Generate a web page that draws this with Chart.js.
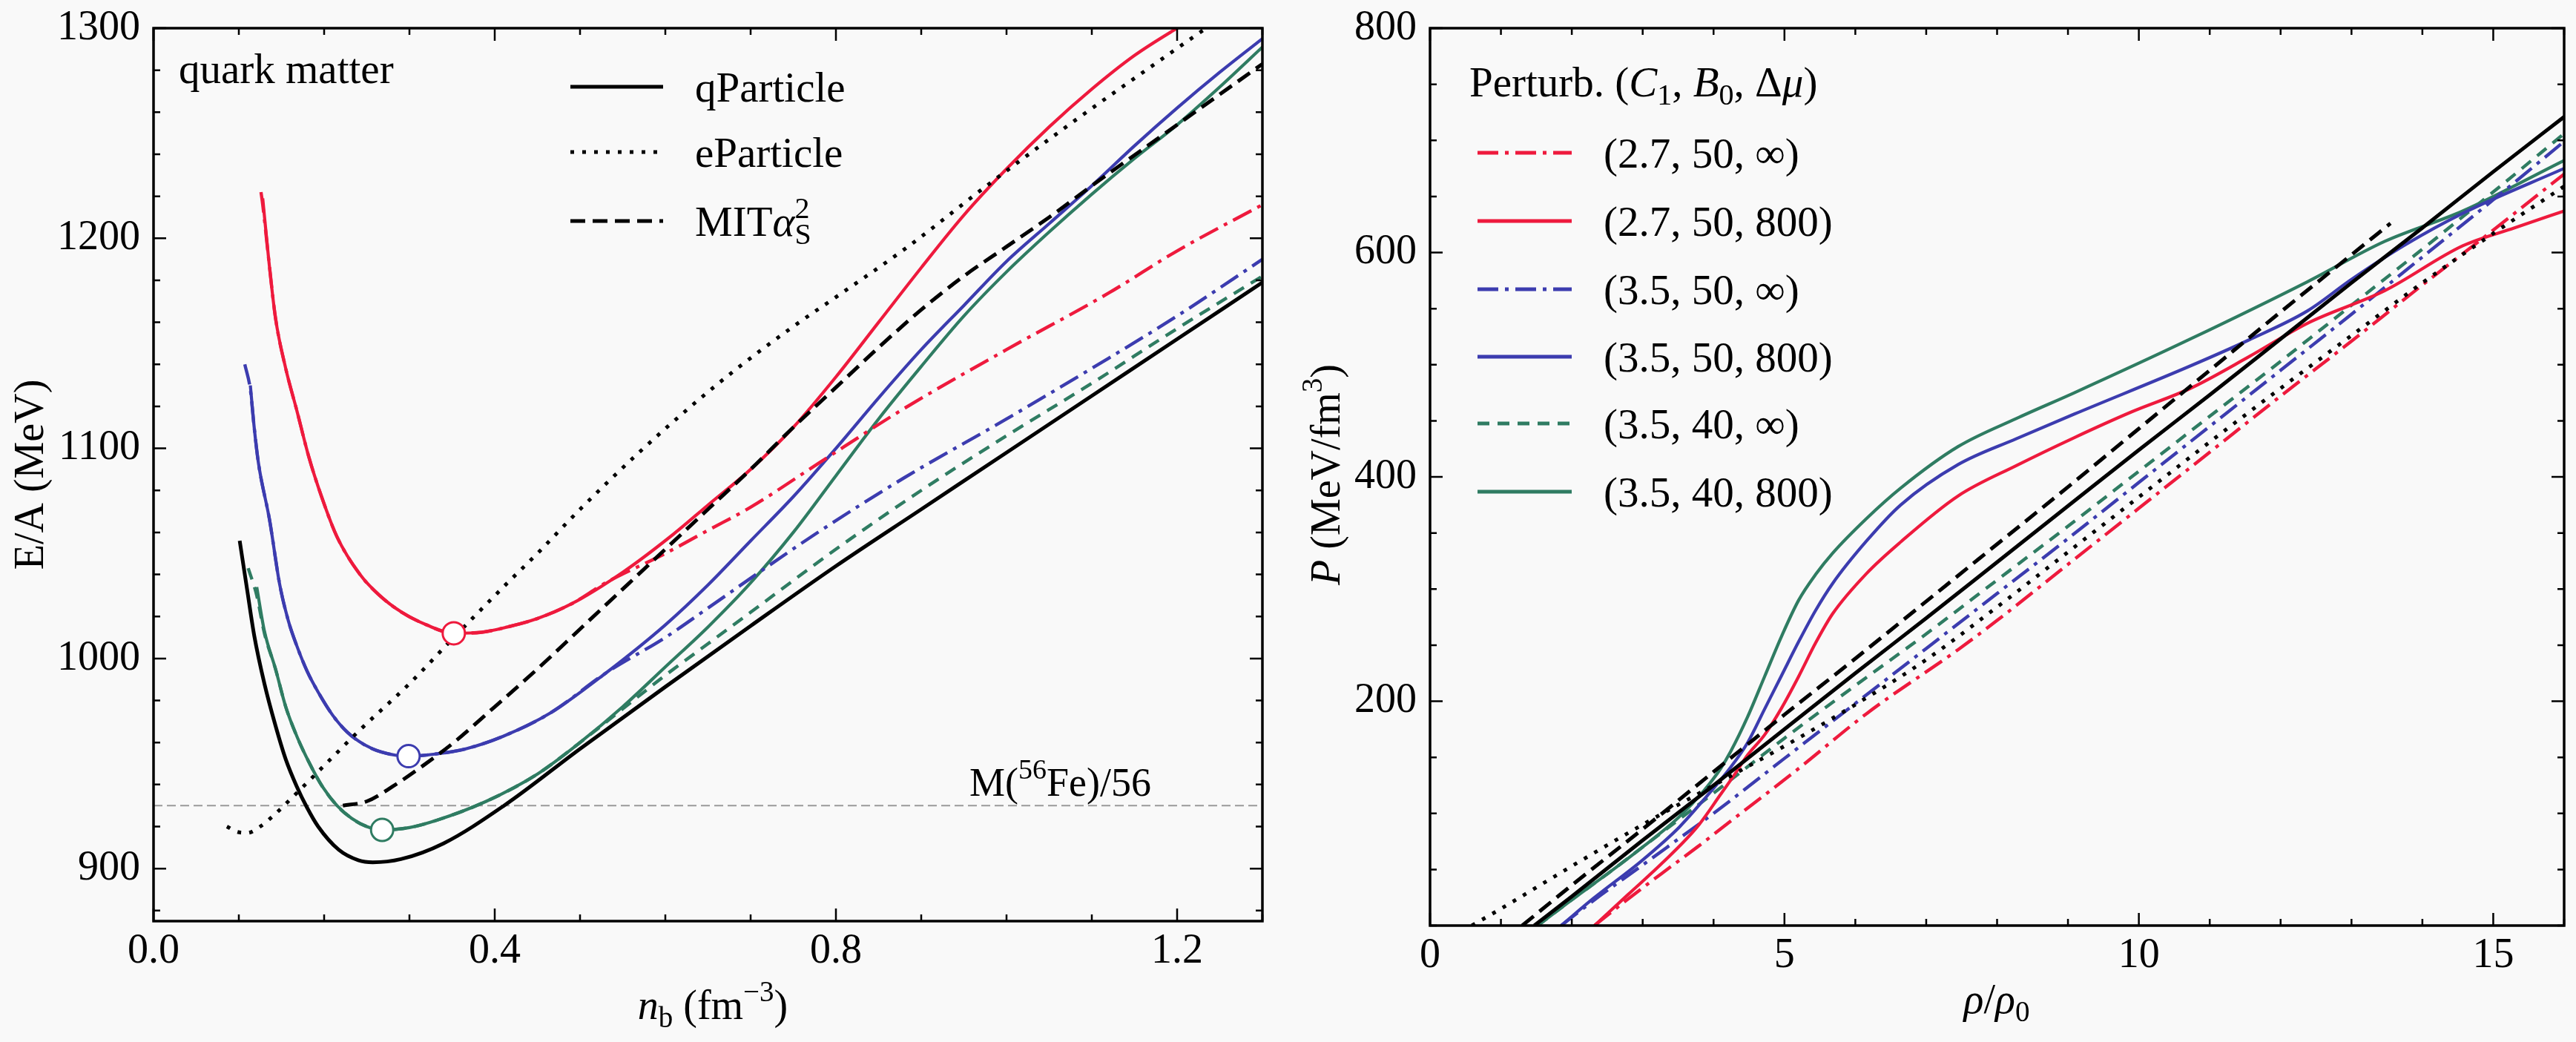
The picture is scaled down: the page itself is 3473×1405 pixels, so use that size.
<!DOCTYPE html>
<html>
<head>
<meta charset="utf-8">
<title>Quark matter EOS</title>
<script src="https://cdn.jsdelivr.net/npm/chart.js@4.4.1/dist/chart.umd.min.js"></script>
<style>
  html, body { margin: 0; padding: 0; background: #f9f9f9; }
  body { width: 3473px; height: 1405px; position: relative; overflow: hidden; }
  canvas { position: absolute; top: 0; }
  #left { left: 0; width: 1720px; height: 1405px; }
  #right { left: 1720px; width: 1753px; height: 1405px; }
</style>
</head>
<body>
<canvas id="left" width="1720" height="1405"></canvas>
<canvas id="right" width="1753" height="1405"></canvas>
<script>
const SERIF = "'Liberation Serif', 'DejaVu Serif', serif";
const RED = '#ee1a3d', BLUE = '#3c3caf', GREEN = '#2f7c62', BLACK = '#000000';

// tick labels
const leftXTicks = [0, 0.4, 0.8, 1.2];
const leftYTicks = [900, 1000, 1100, 1200, 1300];
const rightXTicks = [0, 5, 10, 15];
const rightYTicks = [200, 400, 600, 800];

// left panel: E/A (MeV) against n_b (fm^-3)
const fe56Level = [[0, 930], [1.3, 930]];
const qParticleEA = [[0.101,1056],[0.110,1032],[0.118,1011],[0.130,988],[0.143,968],[0.155,952],[0.168,939],[0.180,929],[0.193,920],[0.217,909],[0.240,904],[0.257,903],[0.290,904.5],[0.340,912],[0.411,930],[0.500,957],[0.600,986.5],[0.700,1015.5],[0.800,1044],[0.900,1071],[1.000,1098],[1.100,1125],[1.200,1152],[1.300,1179]];
const eParticleEA = [[0.086,920],[0.098,917.5],[0.110,917],[0.125,920],[0.140,925],[0.168,936],[0.200,949],[0.242,966],[0.300,988],[0.352,1010],[0.415,1036],[0.450,1050],[0.500,1071],[0.569,1098],[0.630,1120],[0.684,1138],[0.750,1158],[0.800,1172],[0.881,1195],[0.980,1226],[1.080,1256],[1.160,1279],[1.234,1300],[1.270,1310]];
const mitEA = [[0.222,930],[0.250,932],[0.280,939],[0.316,949],[0.352,960],[0.400,977],[0.450,995],[0.500,1014],[0.550,1033],[0.600,1052],[0.650,1071],[0.700,1090],[0.750,1110],[0.800,1129],[0.850,1148],[0.900,1166],[0.950,1182],[1.000,1196],[1.050,1210],[1.100,1225],[1.200,1254],[1.300,1283]];
const red800EA = [[0.128,1219],[0.135,1190],[0.143,1162],[0.155,1138],[0.168,1118],[0.182,1096],[0.197,1077],[0.215,1058],[0.242,1040],[0.265,1030],[0.291,1022],[0.320,1016],[0.352,1012],[0.385,1012.5],[0.415,1015],[0.450,1019],[0.490,1026],[0.550,1041],[0.609,1059],[0.650,1073],[0.700,1090],[0.750,1110],[0.800,1134],[0.850,1160],[0.900,1186],[0.950,1211],[1.000,1233],[1.050,1253],[1.100,1271],[1.150,1287],[1.200,1300],[1.250,1312]];
const redInfEA = [[0.126,1222],[0.128,1216],[0.135,1190],[0.143,1162],[0.155,1138],[0.168,1118],[0.182,1096],[0.197,1077],[0.215,1058],[0.242,1040],[0.265,1030],[0.291,1022],[0.320,1016],[0.352,1012],[0.385,1012.5],[0.415,1015],[0.450,1019],[0.490,1026],[0.530,1036],[0.600,1050],[0.650,1061],[0.700,1072],[0.780,1093],[0.880,1119],[1.000,1147],[1.120,1174],[1.200,1194],[1.300,1216]];
const blue800EA = [[0.1135,1130],[0.118,1110],[0.123,1093],[0.136,1066],[0.148,1035],[0.158,1018],[0.168,1006],[0.180,994],[0.193,984],[0.210,973],[0.227,965],[0.247,959],[0.267,955.5],[0.299,953.5],[0.330,954.5],[0.366,957],[0.410,963],[0.465,974],[0.530,993],[0.600,1016],[0.650,1035],[0.700,1056],[0.750,1077],[0.800,1100],[0.850,1124],[0.900,1147],[0.950,1168],[1.000,1189],[1.050,1207],[1.100,1225],[1.150,1244],[1.200,1262],[1.250,1279],[1.300,1295]];
const blueInfEA = [[0.107,1140],[0.1135,1128],[0.118,1110],[0.123,1093],[0.136,1066],[0.148,1035],[0.158,1018],[0.168,1006],[0.180,994],[0.193,984],[0.210,973],[0.227,965],[0.247,959],[0.267,955.5],[0.299,953.5],[0.330,954.5],[0.366,957],[0.410,963],[0.465,974],[0.530,993],[0.600,1010],[0.650,1024],[0.710,1041],[0.775,1059],[0.880,1086],[1.000,1114],[1.120,1143],[1.200,1163],[1.300,1190]];
const green800EA = [[0.121,1034],[0.130,1013],[0.143,995],[0.155,977],[0.168,963],[0.183,950],[0.198,939],[0.215,930],[0.232,924],[0.250,920],[0.268,918.4],[0.300,919.5],[0.332,923],[0.390,932],[0.450,945],[0.500,960],[0.550,977],[0.600,996],[0.650,1015],[0.700,1036],[0.750,1060],[0.800,1087],[0.850,1114],[0.900,1139],[0.950,1163],[1.000,1184],[1.050,1203],[1.100,1221],[1.150,1238],[1.200,1254],[1.250,1272],[1.300,1291]];
const greenInfEA = [[0.111,1043],[0.121,1030],[0.130,1012],[0.143,995],[0.155,977],[0.168,963],[0.183,950],[0.198,939],[0.215,930],[0.232,924],[0.250,920],[0.268,918.4],[0.300,919.5],[0.332,923],[0.390,932],[0.450,945],[0.500,960],[0.550,976],[0.600,992],[0.650,1007],[0.700,1022],[0.800,1052],[0.900,1080],[1.000,1106],[1.100,1131],[1.200,1157],[1.300,1182]];
const minimaEA = [[0.352,1012],[0.299,953.5],[0.268,918.4]];

// right panel: P (MeV/fm^3) against rho/rho0
const qParticleP = [[1.47,0],[2,26],[3,76],[4,125],[5,175],[6,225],[7,274],[8,324],[9,374],[10,424],[11,473],[12,523],[13,573],[14,622],[15,672],[16,721]];
const eParticleP = [[0.59,0],[1,15],[2,53],[3,90],[4,125],[5,160],[6,197],[7,237],[8,284],[9,333],[10,382],[11,431],[12,479],[13,526],[14,573],[15,617],[16,659]];
const mitP = [[1.3,0],[2,36],[3,86],[4,137],[5,188],[6,238],[7,289],[8,340],[9,391],[10,443],[11,495],[12,547],[13,598],[13.55,626]];
const redInfP = [[2.32,0],[2.8,24],[3.28,47],[3.77,70],[4.24,93],[5.2,140],[6.16,189],[7.45,246],[8,272],[9,322],[10,372],[11,422],[12,472],[13,521],[14,571],[15,620],[16,670]];
const red800P = [[2.32,0],[2.8,28],[3.28,56],[3.77,88],[4.1,117],[4.3,135],[4.48,152],[4.72,170],[4.96,194],[5.2,222],[5.44,252],[5.68,278],[6.16,314],[6.64,342],[7.45,383],[8.27,410],[9.09,435],[9.9,458],[10.73,479],[11.55,507],[12.38,537],[13.47,566],[14.57,606],[15.3,622],[16,637]];
const blueInfP = [[1.85,0],[2.3,22],[3,54],[3.5,77],[4,100],[5,149],[6,198],[7,247],[8,296],[9,345],[10,395],[11,445],[12,495],[13,545],[14,596],[15,647],[16,699]];
const blue800P = [[1.85,0],[2.3,24],[2.99,58],[3.52,88],[3.9,115],[4.24,141],[4.48,163],[4.72,193],[4.96,223],[5.2,253],[5.44,281],[5.68,305],[6.16,343],[6.64,375],[7.45,411],[8.27,434],[9.09,456],[10.73,499],[11.55,522],[12.38,548],[13.0,576],[13.76,607],[14.57,635],[16,675]];
const greenInfP = [[1.52,0],[2,23],[2.5,46],[3,70],[3.5,94],[4,118],[5,167],[6,214],[7,260],[8,308],[9,356],[10,405],[11,454],[12,503],[13,553],[14,603],[15,654],[16,706]];
const green800P = [[1.52,0],[2,23],[2.5,46],[3,70],[3.5,96],[3.86,120],[4.1,140],[4.24,155],[4.48,186],[4.72,222],[4.96,258],[5.2,290],[5.44,313],[5.68,332],[6.16,363],[6.64,390],[7.45,427],[8.27,452],[9.09,475],[10.73,523],[12.38,574],[13.47,610],[14.57,637],[16,682]];

const DOT = [5, 11], DASH = [20, 10], DASHDOT = [28, 9, 5, 9], SHORTDASH = [16, 11];

function series(data, color, width, dash, legend) {
    return {
        data: data,
        borderColor: color,
        borderWidth: width,
        borderDash: dash || [],
        borderCapStyle: 'butt',
        pointRadius: 0,
        pointHoverRadius: 0,
        fill: false,
        cubicInterpolationMode: 'monotone',
        legendParts: legend || null,
    };
}

// rich text with italics, sub- and superscripts
function partFont(p, size) {
    const small = p.sub || p.sup || p.stack;
    return (p.i ? 'italic ' : '') + Math.round(small ? size * 0.7 : size) + 'px ' + SERIF;
}
function partWidth(ctx, p, size) {
    ctx.font = partFont(p, size);
    if (p.stack) return Math.max(ctx.measureText(p.stack[0]).width, ctx.measureText(p.stack[1]).width);
    return ctx.measureText(p.t).width;
}
function drawRich(ctx, item) {
    const size = item.size || 56;
    ctx.save();
    ctx.translate(item.x, item.y);
    if (item.angle) ctx.rotate(item.angle);
    ctx.fillStyle = '#000';
    ctx.textAlign = 'left';
    ctx.textBaseline = 'alphabetic';
    const total = item.parts.reduce((s, p) => s + partWidth(ctx, p, size), 0);
    let cx = item.align === 'center' ? -total / 2 : (item.align === 'right' ? -total : 0);
    item.parts.forEach(p => {
        const w = partWidth(ctx, p, size);
        if (p.stack) {
            ctx.fillText(p.stack[0], cx, -size * 0.42);
            ctx.fillText(p.stack[1], cx, size * 0.2);
        } else {
            ctx.fillText(p.t, cx, p.sub ? size * 0.2 : (p.sup ? -size * 0.42 : 0));
        }
        cx += w;
    });
    ctx.restore();
}

// frame, inward ticks on four sides, texts and legend
const decorPlugin = {
    id: 'decor',
    afterDraw(chart, args, o) {
        const { ctx, chartArea: a } = chart;
        const sx = chart.scales.x, sy = chart.scales.y;
        ctx.save();
        ctx.strokeStyle = '#000';
        ctx.lineWidth = 2.5;
        ctx.beginPath();
        const isMajor = (v, list) => list.some(m => Math.abs(m - v) < 1e-6);
        const x0 = Math.ceil(sx.min / o.xStep - 1e-9);
        for (let i = x0; i * o.xStep <= sx.max + 1e-9; i++) {
            const v = i * o.xStep;
            const px = sx.getPixelForValue(v);
            const len = isMajor(v, o.xMajor) ? 17 : 9;
            ctx.moveTo(px, a.bottom); ctx.lineTo(px, a.bottom - len);
            ctx.moveTo(px, a.top); ctx.lineTo(px, a.top + len);
        }
        const y0 = Math.ceil(sy.min / o.yStep - 1e-9);
        for (let i = y0; i * o.yStep <= sy.max + 1e-9; i++) {
            const v = i * o.yStep;
            const py = sy.getPixelForValue(v);
            const len = isMajor(v, o.yMajor) ? 17 : 9;
            ctx.moveTo(a.left, py); ctx.lineTo(a.left + len, py);
            ctx.moveTo(a.right, py); ctx.lineTo(a.right - len, py);
        }
        ctx.stroke();
        ctx.lineWidth = 3.5;
        ctx.strokeRect(a.left, a.top, a.right - a.left, a.bottom - a.top);

        // legend drawn from the datasets that carry a label
        const lg = o.legend;
        let row = 0;
        chart.data.datasets.forEach(ds => {
            if (!ds.legendParts) return;
            const y = lg.rows[row++];
            ctx.beginPath();
            ctx.strokeStyle = ds.borderColor;
            ctx.lineWidth = 5;
            ctx.setLineDash(ds.borderDash);
            ctx.moveTo(lg.x1, y);
            ctx.lineTo(lg.x2, y);
            ctx.stroke();
            ctx.setLineDash([]);
            drawRich(ctx, { parts: ds.legendParts, x: lg.tx, y: y + 20, size: 57 });
        });
        o.texts.forEach(t => drawRich(ctx, t));
        ctx.restore();
    }
};

function axisX(min, max, ticks, fmt, height) {
    return {
        type: 'linear', min: min, max: max,
        grid: { display: false, drawTicks: false, tickLength: 0 },
        border: { display: false },
        afterBuildTicks: ax => { ax.ticks = ticks.map(v => ({ value: v })); },
        ticks: { callback: fmt, color: '#000', font: { family: SERIF, size: 56 }, padding: 8, maxRotation: 0, autoSkip: false },
        afterFit: ax => { ax.height = height; ax.paddingLeft = 0; ax.paddingRight = 0; },
    };
}
function axisY(min, max, ticks, width) {
    return {
        type: 'linear', min: min, max: max,
        grid: { display: false, drawTicks: false, tickLength: 0 },
        border: { display: false },
        afterBuildTicks: ax => { ax.ticks = ticks.map(v => ({ value: v })); },
        ticks: { callback: v => String(v), color: '#000', font: { family: SERIF, size: 56 }, padding: 18, autoSkip: false },
        afterFit: ax => { ax.width = width; ax.paddingTop = 0; ax.paddingBottom = 0; },
    };
}

const leftDatasets = [
    {
        data: minimaEA, showLine: false, order: -1,
        pointRadius: 15, pointHoverRadius: 15, pointBorderWidth: 3,
        pointBackgroundColor: '#ffffff', pointBorderColor: [RED, BLUE, GREEN],
    },
    series(qParticleEA, BLACK, 5, [], [{ t: 'qParticle' }]),
    series(eParticleEA, BLACK, 5, DOT, [{ t: 'eParticle' }]),
    series(mitEA, BLACK, 5, DASH, [{ t: 'MIT' }, { t: 'α', i: 1 }, { stack: ['2', 'S'] }]),
    series(redInfEA, RED, 4.4, DASHDOT),
    series(red800EA, RED, 4.2),
    series(blueInfEA, BLUE, 4.4, DASHDOT),
    series(blue800EA, BLUE, 4.2),
    series(greenInfEA, GREEN, 4.4, SHORTDASH),
    series(green800EA, GREEN, 4.2),
    series(fe56Level, '#9a9a9a', 2, [12, 6]),
];
leftDatasets[10].cubicInterpolationMode = 'default';

new Chart(document.getElementById('left'), {
    type: 'line',
    data: { datasets: leftDatasets },
    options: {
        responsive: false, animation: false, devicePixelRatio: 1,
        events: [],
        layout: { padding: { top: 38, right: 5, bottom: 0, left: 0 } },
        scales: {
            x: axisX(0, 1.3, leftXTicks, v => v.toFixed(1), 163),
            y: axisY(875, 1300, leftYTicks, 207),
        },
        plugins: {
            legend: { display: false },
            tooltip: { enabled: false },
            decor: {
                xStep: 0.1, yStep: 20, xMajor: leftXTicks, yMajor: leftYTicks,
                legend: { x1: 769, x2: 894, tx: 937, rows: [117, 205, 298] },
                texts: [
                    { parts: [{ t: 'E/A (MeV)' }], x: 58, y: 640, angle: -Math.PI / 2, align: 'center' },
                    { parts: [{ t: 'n', i: 1 }, { t: 'b', sub: 1 }, { t: ' (fm' }, { t: '−3', sup: 1 }, { t: ')' }], x: 961, y: 1374, align: 'center' },
                    { parts: [{ t: 'quark matter' }], x: 241, y: 112, size: 57 },
                    { parts: [{ t: 'M(' }, { t: '56', sup: 1 }, { t: 'Fe)/56' }], x: 1307, y: 1073, size: 54 },
                ],
            },
        },
    },
    plugins: [decorPlugin],
});

const rightDatasets = [
    series(qParticleP, BLACK, 5),
    series(eParticleP, BLACK, 5, DOT),
    series(mitP, BLACK, 5, DASH),
    series(redInfP, RED, 4.4, DASHDOT, [{ t: '(2.7, 50, ∞)' }]),
    series(red800P, RED, 4.2, [], [{ t: '(2.7, 50, 800)' }]),
    series(blueInfP, BLUE, 4.4, DASHDOT, [{ t: '(3.5, 50, ∞)' }]),
    series(blue800P, BLUE, 4.2, [], [{ t: '(3.5, 50, 800)' }]),
    series(greenInfP, GREEN, 4.4, SHORTDASH, [{ t: '(3.5, 40, ∞)' }]),
    series(green800P, GREEN, 4.2, [], [{ t: '(3.5, 40, 800)' }]),
];

new Chart(document.getElementById('right'), {
    type: 'line',
    data: { datasets: rightDatasets },
    options: {
        responsive: false, animation: false, devicePixelRatio: 1,
        events: [],
        layout: { padding: { top: 38, right: 16, bottom: 0, left: 0 } },
        scales: {
            x: axisX(0, 16, rightXTicks, v => String(v), 157),
            y: axisY(0, 800, rightYTicks, 208),
        },
        plugins: {
            legend: { display: false },
            tooltip: { enabled: false },
            decor: {
                xStep: 1, yStep: 50, xMajor: rightXTicks, yMajor: rightYTicks,
                legend: { x1: 272, x2: 399, tx: 442, rows: [206, 298, 390, 481, 571, 663] },
                texts: [
                    { parts: [{ t: 'P', i: 1 }, { t: ' (MeV/fm' }, { t: '3', sup: 1 }, { t: ')' }], x: 86, y: 640, angle: -Math.PI / 2, align: 'center' },
                    { parts: [{ t: 'ρ', i: 1 }, { t: '/' }, { t: 'ρ', i: 1 }, { t: '0', sub: 1 }], x: 972, y: 1366, align: 'center' },
                    { parts: [{ t: 'Perturb. (' }, { t: 'C', i: 1 }, { t: '1', sub: 1 }, { t: ', ' }, { t: 'B', i: 1 }, { t: '0', sub: 1 }, { t: ', Δ' }, { t: 'μ', i: 1 }, { t: ')' }], x: 261, y: 130, size: 57 },
                ],
            },
        },
    },
    plugins: [decorPlugin],
});
</script>
</body>
</html>
